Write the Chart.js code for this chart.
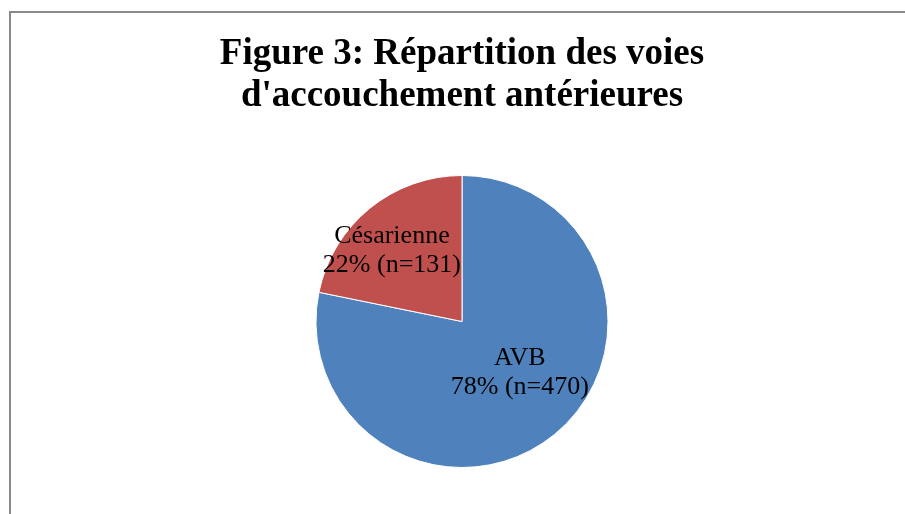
<!DOCTYPE html>
<html>
<head>
<meta charset="utf-8">
<script src="https://cdn.jsdelivr.net/npm/chart.js@4/dist/chart.umd.min.js"></script>
<style>
  body { margin: 0; background: #fff; overflow: hidden; width: 905px; height: 514px; }
  #frame {
    position: absolute; left: 9px; top: 11px; width: 920px; height: 520px;
    border-left: 2px solid #8a8a8a; border-top: 2px solid #8a8a8a;
  }
  #chart1 { position: absolute; left: 11px; top: 13px; }
</style>
</head>
<body>
<div id="frame"></div>
<canvas id="chart1" width="902" height="501"></canvas>
<script>
// PIE - VOIES D'ACCOUCHEMENT ANTERIEURES
const titleLines = ["Figure 3: Répartition des voies", "d'accouchement antérieures"];
const labels = ["AVB", "Césarienne"];
const counts = [470, 131];
const colors = ["#4F81BD", "#C0504D"];
// where each label sits: angle (deg, canvas coords) and fraction of the radius
const labelPos = [{ angle: 45, r: 0.56 }, { angle: -137.6, r: 0.65 }];

const total = counts.reduce((a, b) => a + b, 0);

// draws "name / xx% (n=..)" on each slice
const sliceLabels = {
  id: 'sliceLabels',
  afterDatasetsDraw(chart) {
    const ctx = chart.ctx;
    const arcs = chart.getDatasetMeta(0).data;
    ctx.save();
    ctx.fillStyle = '#000';
    ctx.font = '26px "Liberation Serif", "Times New Roman", serif';
    ctx.textAlign = 'center';
    ctx.textBaseline = 'alphabetic';
    arcs.forEach((arc, i) => {
      const a = labelPos[i].angle * Math.PI / 180;
      const cx = arc.x + Math.cos(a) * arc.outerRadius * labelPos[i].r;
      const cy = arc.y + Math.sin(a) * arc.outerRadius * labelPos[i].r;
      const pct = Math.round(counts[i] / total * 100);
      ctx.fillText(labels[i], cx, cy - 14.5);
      ctx.fillText(pct + '% (n=' + counts[i] + ')', cx, cy + 14.5);
    });
    ctx.restore();
  }
};

new Chart(document.getElementById("chart1"), {
  type: 'pie',
  data: {
    labels: labels,
    datasets: [
      {
        data: counts,
        backgroundColor: colors,
        borderColor: '#ffffff',
        borderWidth: 1
      }
    ]
  },
  options: {
    responsive: false,
    animation: false,
    devicePixelRatio: 1,
    layout: { padding: { top: 0, bottom: 46, left: 0, right: 0 } },
    plugins: {
      legend: { display: false },
      tooltip: { enabled: false },
      title: {
        display: true,
        text: titleLines,
        color: '#000',
        font: { family: '"Liberation Serif", "Times New Roman", serif', size: 37, weight: 'bold', lineHeight: 1.135 },
        padding: { top: 20, bottom: 58 }
      }
    }
  },
  plugins: [sliceLabels]
});
</script>
</body>
</html>
